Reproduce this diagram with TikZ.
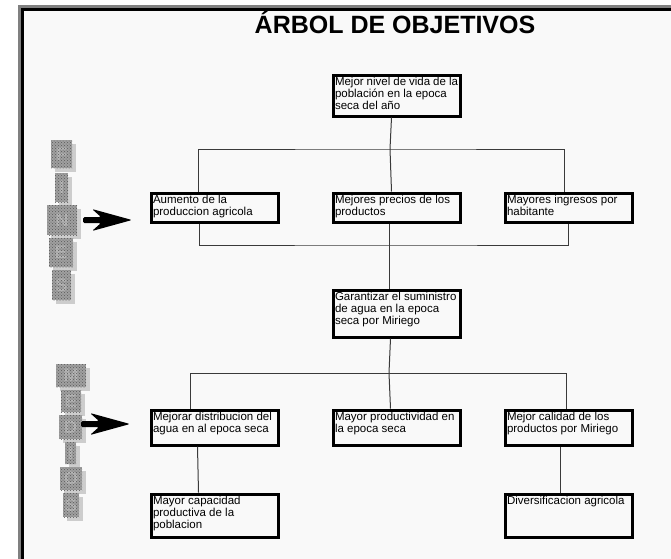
\documentclass[tikz,border=0pt]{standalone}
\usepackage{fontspec}
\setmainfont{Liberation Sans}
\usetikzlibrary{patterns,calc}

\definecolor{paper}{HTML}{F9F9F9}
\definecolor{framegray}{HTML}{808080}
\definecolor{wire}{HTML}{3A3A3A}
\definecolor{stone}{HTML}{A0A0A0}
\definecolor{stoneshadow}{HTML}{CDCDCD}
\definecolor{stonelight}{HTML}{B8B8B8}

\tikzset{
  objbox/.style={draw=black, line width=3pt, inner sep=2pt,
    font=\fontsize{11.5}{12}\selectfont},
  wire/.style={draw=wire, line width=1pt},
  titletext/.style={font=\bfseries\fontsize{25}{30}\selectfont, inner sep=0pt},
  stonelbl/.style={text=stonelight, inner sep=0pt,
    font=\bfseries\fontsize{18}{18}\selectfont},
}

% objective box: name, left, top, width, height, text (outer edge of the frame)
\newcommand\objbox[6]{%
  \node[objbox, anchor=north west] (#1) at (#2+1.5,#3+1.5)
    {\parbox[t][\dimexpr#5pt-7pt\relax][t]{\dimexpr#4pt-7pt\relax}{\raggedright #6}};}

% textured block letter: name, x1, y1, x2, y2, letter
\newcommand\stoneletter[6]{%
  \fill[stoneshadow] (#2+4,#3+4) rectangle (#4+4,#5+4);
  \fill[stone] (#2,#3) rectangle (#4,#5);
  \node[stonelbl] (#1) at ({(#2+#4)/2},{(#3+#5)/2}) {#6};
  \fill[pattern=crosshatch dots, pattern color=gray!70!black] (#2,#3) rectangle (#4,#5);}

% thick pointing arrow: name of tip coordinate, tip x, tip y
\newcommand\fatarrow[3]{%
  \coordinate (#1) at (#2,#3);
  \fill[black, rounded corners=1.5pt, shift={(#1)}]
    (0,0) -- (-40,-11) -- (-31,-3) -- (-49,-3) -- (-49,3) -- (-31,3) -- (-40,11) -- cycle;}

\begin{document}
\begin{tikzpicture}[x=1pt, y=-1pt]
\useasboundingbox (0,0) rectangle (671,558);
\clip (0,0) rectangle (671,558);
\fill[white] (0,0) rectangle (671,558);

% page frame
\fill[paper] (24,11) rectangle (690,580);
\draw[framegray, line width=3pt] (19.5,580) -- (19.5,6.5) -- (690,6.5);
\draw[black, line width=3pt] (22.5,580) -- (22.5,9.5) -- (690,9.5);

% title
\node[titletext, anchor=base] (title) at (395,33) {ÁRBOL DE OBJETIVOS};

% objectives
\objbox{b1}{330}{72}{130}{44}{Mejor nivel de vida de la\\población en la epoca\\seca del año}
\objbox{b2a}{148}{190}{130}{32}{Aumento de la\\produccion agricola}
\objbox{b2b}{330}{190}{130}{32}{Mejores precios de los\\productos}
\objbox{b2c}{502}{190}{130}{32}{Mayores ingresos por\\habitante}
\objbox{b3}{330}{287}{130}{50}{Garantizar el suministro\\de agua en la epoca\\seca por Miriego}
\objbox{b4a}{148}{407}{130}{38}{Mejorar distribucion del\\agua en al epoca seca}
\objbox{b4b}{330}{407}{130}{38}{Mayor productividad en\\la epoca seca}
\objbox{b4c}{502}{407}{130}{38}{Mejor calidad de los\\productos por Miriego}
\objbox{b5a}{148}{491}{130}{46}{Mayor capacidad\\productiva de la\\poblacion}
\objbox{b5c}{502}{491}{130}{46}{Diversificacion agricola}

% junctions of the branches
\coordinate (j1) at (390,149);
\coordinate (j2) at (388,245);
\coordinate (j3) at (389,373);

% connectors
\draw[wire] ([xshift=-5pt]b1.south) -- (j1);
\draw[wire] ([xshift=-16pt]b2a.north) |- (j1) -| ([xshift=-4pt]b2c.north);
\draw[wire] (j1) -- ([xshift=-5pt]b2b.north);
\draw[wire] ([xshift=-15pt]b2a.south) |- (j2) -| (b2c.south);
\draw[wire] ([xshift=-7pt]b2b.south) -- ([xshift=-7pt]b3.north);
\draw[wire] ([xshift=-6pt]b3.south) -- (j3);
\draw[wire] ([xshift=-24pt]b4a.north) |- (j3) -| ([xshift=-2pt]b4c.north);
\draw[wire] (j3) -- ([xshift=-6pt]b4b.north);
\draw[wire] ([xshift=-17pt]b4a.south) -- ([xshift=-16pt]b5a.north);
\draw[wire] ([xshift=-8pt]b4c.south) -- ([xshift=-8pt]b5c.north);

% side labels
\stoneletter{f1}{51}{140}{72}{168}{F}
\stoneletter{f2}{55}{173}{68}{202}{I}
\stoneletter{f3}{47}{205}{77}{235}{N}
\stoneletter{f4}{49}{238}{73}{267}{E}
\stoneletter{f5}{52}{270}{71}{300}{S}

\stoneletter{m1}{56}{364}{86}{387}{M}
\stoneletter{m2}{61}{390}{81}{412}{E}
\stoneletter{m3}{59}{415}{82}{439}{D}
\stoneletter{m4}{65}{442}{76}{464}{I}
\stoneletter{m5}{60}{467}{82}{490}{O}
\stoneletter{m6}{63}{493}{79}{517}{S}

% arrows towards the levels
\fatarrow{a1}{132}{220}
\fatarrow{a2}{130}{424}
\end{tikzpicture}
\end{document}
